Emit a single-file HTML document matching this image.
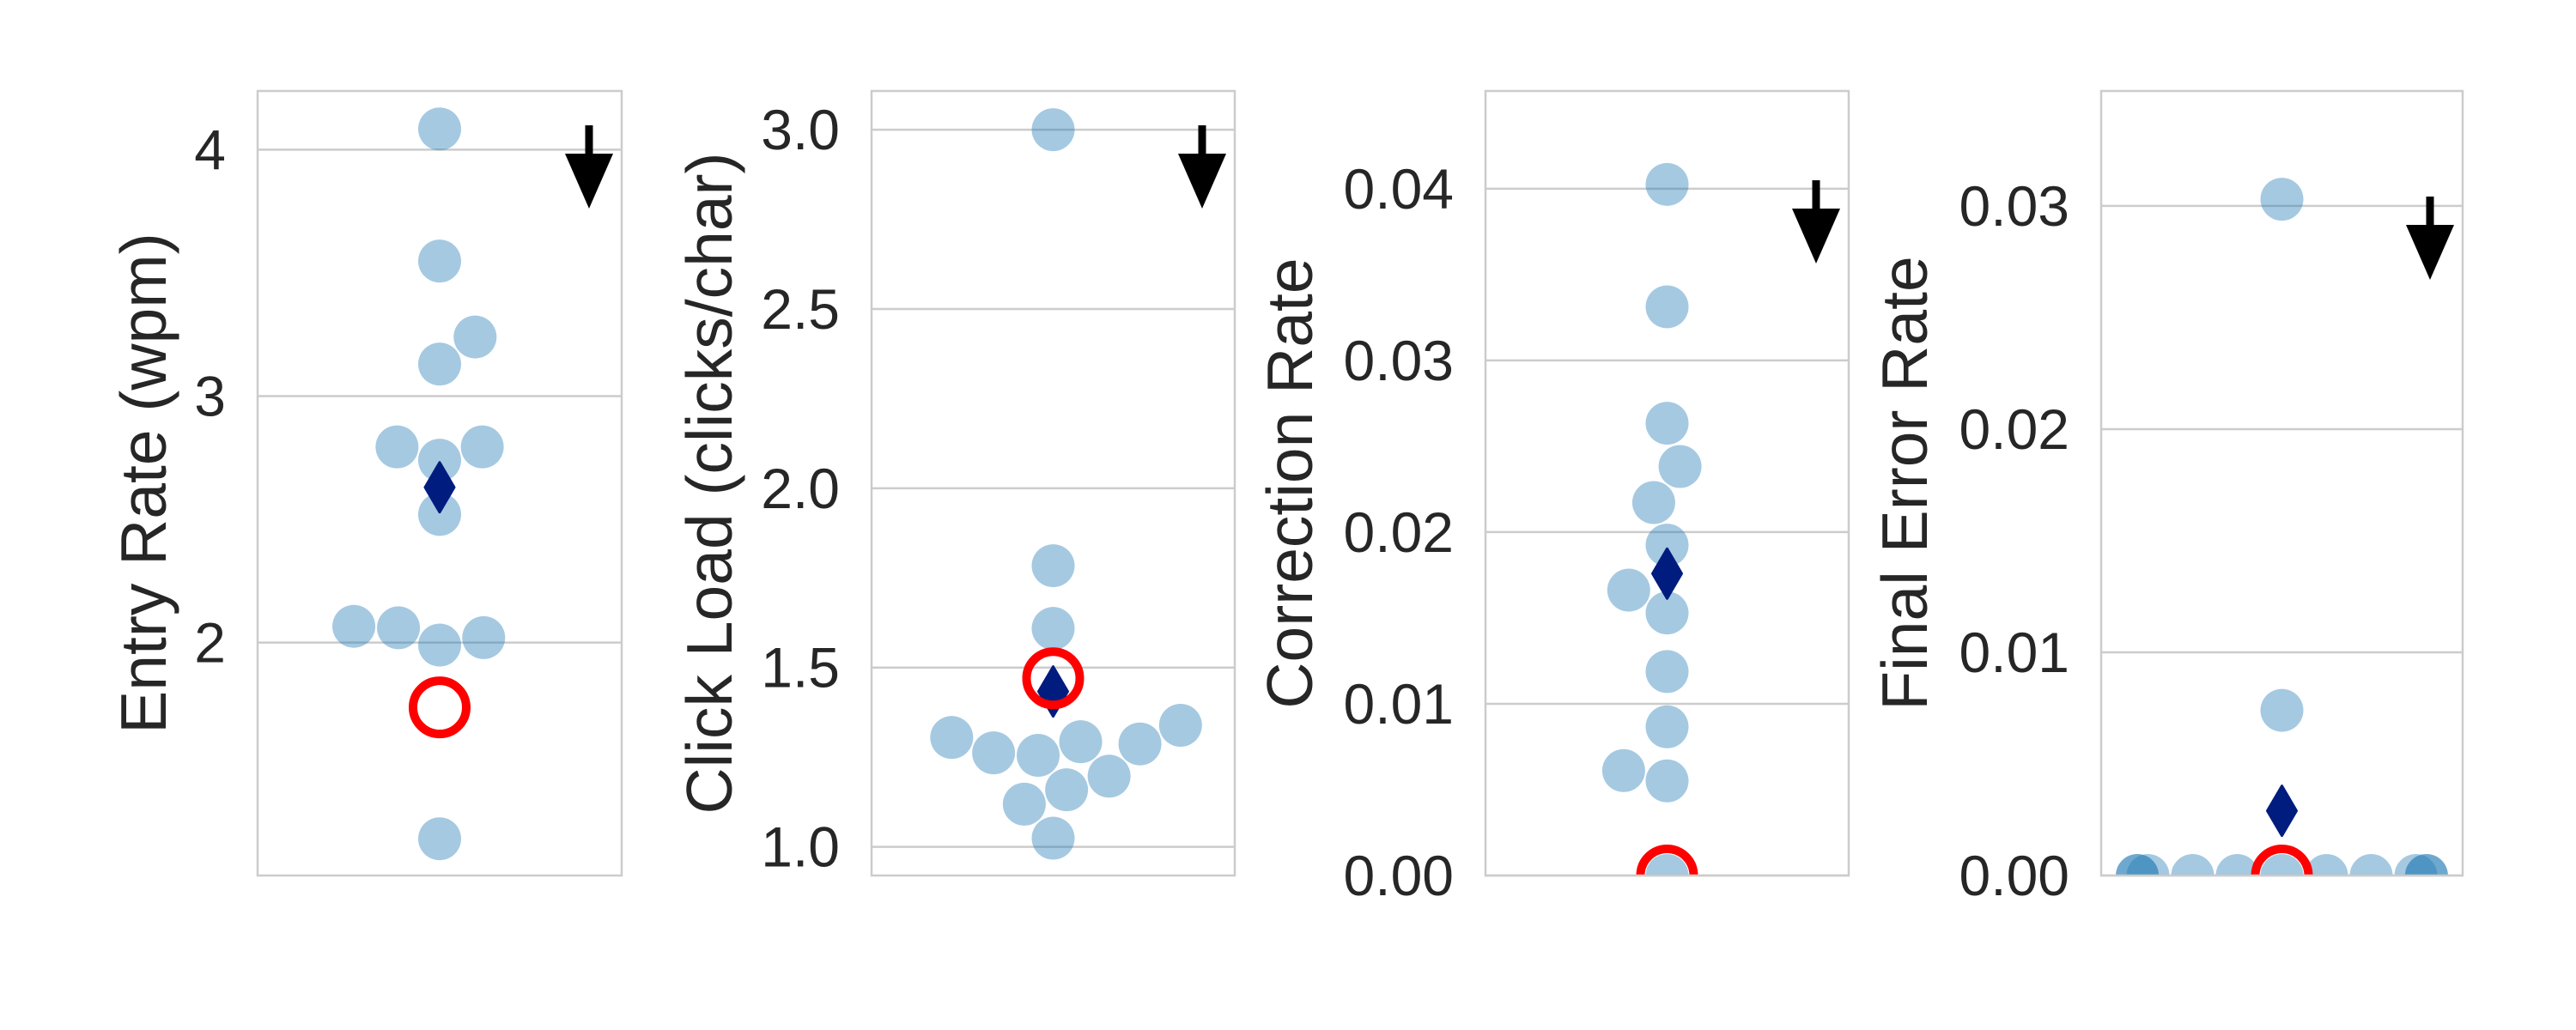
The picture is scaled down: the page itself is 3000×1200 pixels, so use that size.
<!DOCTYPE html>
<html><head><meta charset="utf-8"><style>
html,body{margin:0;padding:0;background:#fff;}
svg{display:block;font-family:"Liberation Sans",sans-serif;}
</style></head><body>
<svg id="fig" width="3000" height="1200" viewBox="0 0 3000 1200" xmlns="http://www.w3.org/2000/svg"></svg>
<script>
// ---- data ----
const entryRate = [4.084, 3.548, 3.24, 3.13, 2.794, 2.74, 2.794, 2.52, 2.066, 2.06, 1.99, 2.02, 1.204];
const clickLoad = [3.0, 1.784, 1.609, 1.305, 1.262, 1.255, 1.293, 1.197, 1.287, 1.339, 1.159, 1.119, 1.024];
const correctionRate = [0.04025, 0.03312, 0.02634, 0.02382, 0.02172, 0.01924, 0.01662, 0.01529, 0.01188, 0.00866, 0.00611, 0.00551, 0.0];
const finalErrorRate = [0.0303, 0.0074, 0, 0, 0, 0, 0, 0, 0, 0, 0, 0, 0];
const referenceValues = [1.737, 1.47, 0.0, 0.0];
const axisLabels = ["Entry Rate (wpm)", "Click Load (clicks/char)", "Correction Rate", "Final Error Rate"];
const ticks1 = [2, 3, 4];
const ticks2 = [1.0, 1.5, 2.0, 2.5, 3.0];
const ticks3 = [0.00, 0.01, 0.02, 0.03, 0.04];
const ticks4 = [0.00, 0.01, 0.02, 0.03];
const tickDecimals = [0, 1, 2, 2];
const yLimits = [[1.055, 4.238], [0.92, 3.108], [0, 0.04569], [0, 0.03515]];

// ---- layout ----
const NS = "http://www.w3.org/2000/svg";
const svg = document.getElementById("fig");
const TOP = 106, BOTTOM = 1020;
const layout = [
  {x0: 300, x1: 724, labelX: 193, arrowTop: 146, mirror: true, name: "entry-rate"},
  {x0: 1015, x1: 1438, labelX: 852, arrowTop: 146, mirror: false, name: "click-load"},
  {x0: 1730, x1: 2153, labelX: 1528, arrowTop: 210, mirror: false, name: "correction-rate"},
  {x0: 2447, x1: 2868, labelX: 2244, arrowTop: 229, mirror: false, name: "final-error-rate"}
];
const seriesList = [entryRate, clickLoad, correctionRate, finalErrorRate];
const tickList = [ticks1, ticks2, ticks3, ticks4];
const R = 25, D = 52;

function mk(tag, attrs, parent) {
  const e = document.createElementNS(NS, tag);
  for (const k in attrs) e.setAttribute(k, attrs[k]);
  (parent || svg).appendChild(e);
  return e;
}

function swarm(ys, halfW) {
  const order = ys.map((y, i) => i).sort((a, b) => ys[b] - ys[a]);
  const placed = [];
  const xs = new Array(ys.length);
  order.forEach(i => {
    const y = ys[i];
    const nb = placed.filter(p => Math.abs(p.y - y) < D);
    const cands = [0];
    let leftFirst = true;
    nb.forEach(p => {
      const dx = Math.sqrt(D * D - (p.y - y) ** 2);
      if (leftFirst) cands.push(p.x - dx, p.x + dx); else cands.push(p.x + dx, p.x - dx);
      leftFirst = !leftFirst;
    });
    const sorted = cands.map((c, k) => [c, k]).sort((a, b) => Math.abs(a[0]) - Math.abs(b[0]) || a[1] - b[1]);
    let x = null;
    for (const [c] of sorted) {
      if (nb.every(p => (p.x - c) ** 2 + (p.y - y) ** 2 >= D * D - 0.5)) { x = c; break; }
    }
    if (x === null) x = sorted[sorted.length - 1][0];
    placed.push({x, y});
    xs[i] = Math.max(-halfW, Math.min(halfW, x));
  });
  return xs;
}

layout.forEach((L, pi) => {
  const g = mk("g", {});
  
  
  const [ymin, ymax] = yLimits[pi];
  const yScale = v => BOTTOM - (v - ymin) / (ymax - ymin) * (BOTTOM - TOP);
  const cx = (L.x0 + L.x1) / 2;
  const clipId = "clip" + pi;
  const cp = mk("clipPath", {id: clipId}, g);
  mk("rect", {x: L.x0, y: TOP, width: L.x1 - L.x0, height: BOTTOM - TOP}, cp);

  tickList[pi].forEach(t => {
    const y = yScale(t);
    const gl = mk("line", {x1: L.x0, x2: L.x1, y1: y, y2: y, stroke: "#cccccc", "stroke-width": 2.5}, g);
    
    
    const tx = mk("text", {x: L.x0 - 37, y: y, "text-anchor": "end", "dominant-baseline": "central", "font-size": 66, fill: "#262626"}, g);
    tx.textContent = t.toFixed(tickDecimals[pi]);
    
    
  });

  const cy = (TOP + BOTTOM) / 2;
  const lab = mk("text", {x: L.labelX, y: cy, transform: `rotate(-90 ${L.labelX} ${cy})`, "text-anchor": "middle", "font-size": 75, fill: "#262626"}, g);
  lab.textContent = axisLabels[pi];
  
  

  const vals = seriesList[pi];
  const ys = vals.map(yScale);
  const xs = swarm(ys, (L.x1 - L.x0) * 0.4);
  const sgn = L.mirror ? -1 : 1;
  const pg = mk("g", {"clip-path": `url(#${clipId})`}, g);
  vals.forEach((v, i) => {
    const c = mk("circle", {cx: cx + sgn * xs[i], cy: ys[i], r: R, fill: "#1f77b4", "fill-opacity": 0.4}, pg);
    
    
  });

  const mean = vals.reduce((a, b) => a + b, 0) / vals.length;
  const my = yScale(mean);
  const dm = mk("path", {d: `M${cx} ${my - 29} L${cx + 17} ${my} L${cx} ${my + 29} L${cx - 17} ${my} Z`, fill: "#001c7f", stroke: "#001c7f", "stroke-width": 3, "stroke-linejoin": "round"}, pg);
  
  

  const rc = mk("circle", {cx: cx, cy: yScale(referenceValues[pi]), r: 31, fill: "none", stroke: "#ff0000", "stroke-width": 10}, pg);
  
  

  const fr = mk("rect", {x: L.x0, y: TOP, width: L.x1 - L.x0, height: BOTTOM - TOP, fill: "none", stroke: "#cccccc", "stroke-width": 2.5}, g);
  
  

  const ax = L.x1 - 38, at = L.arrowTop;
  const ag = mk("g", {}, g);
  
  
  mk("rect", {x: ax - 4.5, y: at, width: 9, height: 36, fill: "#000"}, ag);
  mk("path", {d: `M${ax - 28} ${at + 33} L${ax + 28} ${at + 33} L${ax} ${at + 97} Z`, fill: "#000"}, ag);
});
</script>
</body></html>
